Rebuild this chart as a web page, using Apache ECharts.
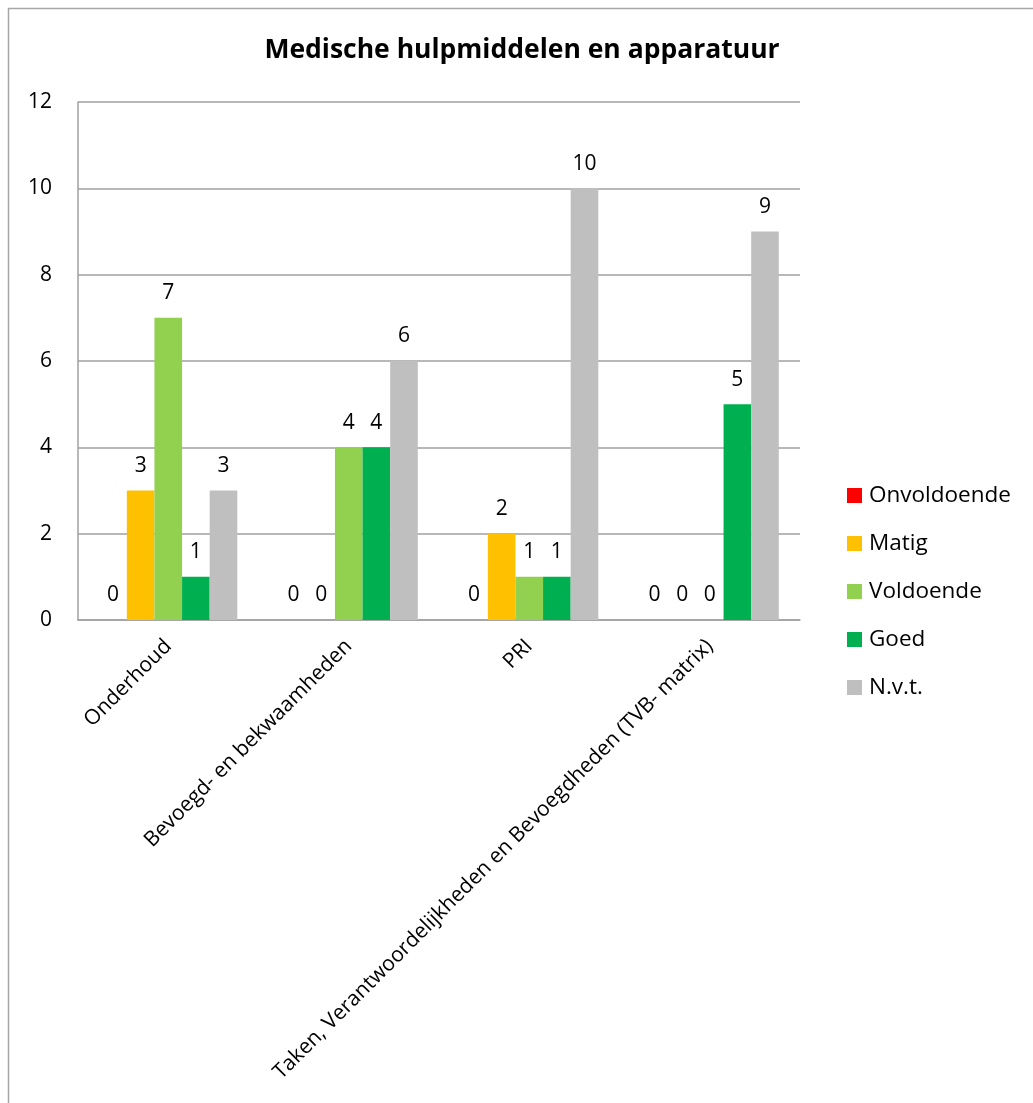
<!DOCTYPE html>
<html>
<head>
<meta charset="utf-8">
<script src="https://cdn.jsdelivr.net/npm/echarts@6/dist/echarts.min.js"></script>
<style>
html,body{margin:0;padding:0;background:#fff;}
#chart{width:1033px;height:1103px;}
</style>
</head>
<body>
<div id="chart"></div>
<script>
const categories = ["Onderhoud", "Bevoegd- en bekwaamheden", "PRI", "Taken, Verantwoordelijkheden en Bevoegdheden (TVB- matrix)"];
const seriesNames = ["Onvoldoende", "Matig", "Voldoende", "Goed", "N.v.t."];
const onvoldoende = [0, 0, 0, 0];
const matig = [3, 0, 2, 0];
const voldoende = [7, 4, 1, 0];
const goed = [1, 4, 1, 5];
const nvt = [3, 6, 10, 9];
const colors = ["#FF0000", "#FFC000", "#92D050", "#00B050", "#BFBFBF"];
const yTicks = [0, 2, 4, 6, 8, 10, 12];

const FONT = "Open Sans";
const allValues = [onvoldoende, matig, voldoende, goed, nvt];

const chart = echarts.init(document.getElementById('chart'), null, {renderer: 'canvas'});
chart.setOption({
  animation: false,
  backgroundColor: '#ffffff',
  textStyle: {fontFamily: FONT},
  title: {
    text: 'Medische hulpmiddelen en apparatuur',
    left: 517, top: 32, textAlign: 'center',
    textStyle: {fontFamily: FONT, fontSize: 26.5, fontWeight: 'bold', color: '#000'}
  },
  graphic: [{
    type: 'rect', silent: true, z: -1,
    shape: {x: 8.5, y: 8.5, width: 1200, height: 1200},
    style: {fill: 'none', stroke: '#A6A6A6', lineWidth: 1.5}
  }],
  legend: {
    orient: 'vertical', left: 842, top: 479,
    itemWidth: 15, itemHeight: 15, itemGap: 25,
    icon: 'rect',
    textStyle: {fontFamily: FONT, fontSize: 22.5, color: '#000', padding: [0, 0, 0, 2]},
    data: seriesNames
  },
  grid: {left: 78, right: 233, top: 102, bottom: 483},
  xAxis: {
    type: 'category', data: categories,
    axisLine: {show: true, lineStyle: {color: '#A0A0A0', width: 1.5}},
    axisTick: {show: false},
    axisLabel: {rotate: 45, fontSize: 21, color: '#000', margin: 23, interval: 0, fontFamily: FONT}
  },
  yAxis: {
    type: 'value', min: yTicks[0], max: yTicks[yTicks.length - 1], interval: 2,
    axisLine: {show: true, lineStyle: {color: '#A0A0A0', width: 1.5}},
    axisTick: {show: false},
    axisLabel: {fontSize: 21, color: '#000', margin: 26, fontFamily: FONT},
    splitLine: {show: true, lineStyle: {color: '#A0A0A0', width: 1.5}}
  },
  series: seriesNames.map((name, i) => ({
    name: name, type: 'bar', data: allValues[i],
    barGap: '0%', barCategoryGap: '23.5%',
    itemStyle: {color: colors[i]},
    label: {show: true, position: 'top', distance: 14, fontSize: 21, color: '#000', fontFamily: FONT}
  }))
});
</script>
</body>
</html>
